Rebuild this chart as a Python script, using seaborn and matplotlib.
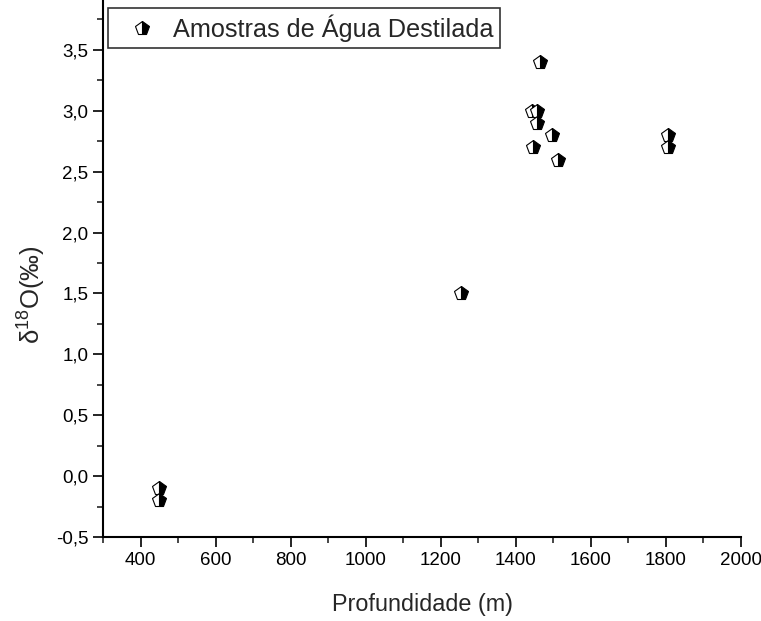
import matplotlib
matplotlib.use("Agg")
import matplotlib.pyplot as plt
import seaborn as sns
import pandas as pd
from matplotlib.ticker import MultipleLocator, FuncFormatter

depth = [450, 450, 1255, 1465, 1443, 1457, 1457, 1496, 1445, 1512, 1805, 1805]
d18O = [-0.1, -0.2, 1.5, 3.4, 3.0, 3.0, 2.9, 2.8, 2.7, 2.6, 2.8, 2.7]
series_label = "Amostras de Água Destilada"

df = pd.DataFrame({"depth": depth, "d18O": d18O})

sns.set_style("ticks")
plt.rcParams["font.family"] = ["Liberation Sans", "DejaVu Sans"]

fig = plt.figure(figsize=(7.61, 6.21), dpi=100)
ax = fig.add_axes([0.1354, 0.1353, 0.9737 - 0.1354, 1.0 - 0.1353])

sns.lineplot(data=df, x="depth", y="d18O", ax=ax, estimator=None, sort=False,
             errorbar=None, linestyle="", marker="p", markersize=10.5,
             fillstyle="right", markerfacecolor="black",
             markerfacecoloralt="white", markeredgecolor="black",
             markeredgewidth=0.8, color="black", label=series_label)

ax.set_xlim(300, 2000)
ax.set_ylim(-0.5, 3.91)
ax.xaxis.set_major_locator(MultipleLocator(200))
ax.xaxis.set_minor_locator(MultipleLocator(100))
ax.yaxis.set_major_locator(MultipleLocator(0.5))
ax.yaxis.set_minor_locator(MultipleLocator(0.25))
ax.yaxis.set_major_formatter(FuncFormatter(lambda v, p: f"{v:.1f}".replace(".", ",")))
ax.xaxis.set_major_formatter(FuncFormatter(lambda v, p: f"{v:.0f}"))

for s in ["top", "right"]:
    ax.spines[s].set_visible(False)
for s in ["left", "bottom"]:
    ax.spines[s].set_linewidth(1.5)
    ax.spines[s].set_color("black")

ax.tick_params(which="major", direction="out", length=7, width=1.2, labelsize=13.5, colors="black")
ax.tick_params(which="minor", direction="out", length=4, width=1.2)

ax.set_xlabel("Profundidade (m)", fontsize=16.8)
ax.xaxis.set_label_coords(0.501, -0.105)
ax.set_ylabel(r"$\mathregular{\delta^{18}O(‰)}$", fontsize=18.5)
ax.yaxis.set_label_coords(-0.087, 0.451)

leg = ax.legend(loc="upper left", bbox_to_anchor=(0.008, 0.985), fontsize=18.2,
                frameon=True, fancybox=False, edgecolor="black", borderpad=0.25,
                handletextpad=0.12, handlelength=2.2, borderaxespad=0)
leg.get_frame().set_linewidth(1.2)

fig.savefig("out.png", dpi=100)
